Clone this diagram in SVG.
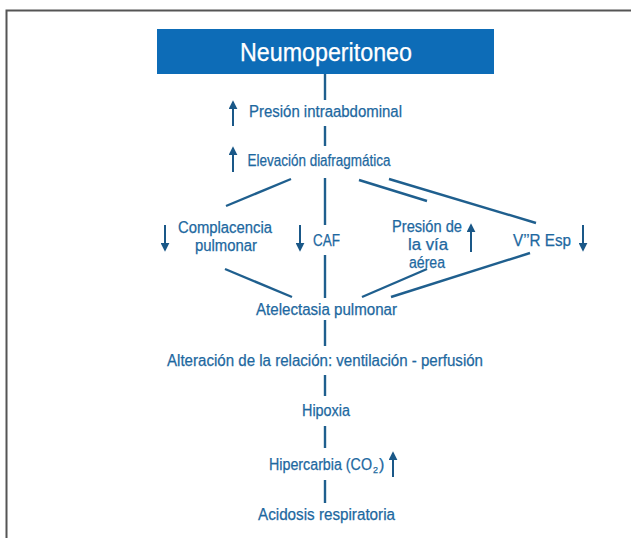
<svg xmlns="http://www.w3.org/2000/svg" width="631" height="538" viewBox="0 0 631 538">
<defs>
<style>
.t{font-family:"Liberation Sans",Arial,sans-serif;font-size:16px;fill:#1d68a0;text-anchor:middle;stroke:#1d68a0;stroke-width:0.25}
.c line{stroke:#1f5f8e;stroke-width:2.4;stroke-linecap:butt}
.a{stroke:#1a5888;stroke-width:2}
.h{fill:#1a5888}
</style>
<marker id="ah" viewBox="0 0 10 10" refX="8" refY="5" markerWidth="4.5" markerHeight="4.5" orient="auto"><path class="h" d="M0,0 L10,5 L0,10 z"/></marker>
</defs>
<rect x="0" y="0" width="631" height="538" fill="#fff"/>
<path d="M6.5,538 V10.5 H631" fill="none" stroke="#555" stroke-width="2"/>

<g id="neumoperitoneo">
<rect x="157" y="29" width="337" height="45" fill="#0d6cb7"/>
<text x="326" y="61" class="t" style="fill:#fff;stroke:#fff;font-size:25px" textLength="172" lengthAdjust="spacingAndGlyphs">Neumoperitoneo</text>
</g>

<g class="c" id="connectors">
<line x1="325" y1="74" x2="325" y2="100"/>
<line x1="325" y1="126" x2="325" y2="146"/>
<line x1="291" y1="179" x2="226" y2="206"/>
<line x1="325" y1="178" x2="325" y2="225"/>
<line x1="359" y1="180" x2="427" y2="201"/>
<line x1="389" y1="179" x2="536" y2="223"/>
<line x1="225" y1="269" x2="292" y2="297"/>
<line x1="325" y1="255" x2="325" y2="298"/>
<line x1="427" y1="269" x2="362" y2="297"/>
<line x1="530" y1="253" x2="391" y2="297"/>
<line x1="325" y1="320" x2="325" y2="346"/>
<line x1="325" y1="375" x2="325" y2="396"/>
<line x1="325" y1="426" x2="325" y2="448"/>
<line x1="325" y1="480" x2="325" y2="503"/>
</g>

<g id="presion-intraabdominal">
<line class="a" x1="233" y1="126" x2="233" y2="102" marker-end="url(#ah)"/>
<text x="325.5" y="117" class="t" textLength="153" lengthAdjust="spacingAndGlyphs">Presión intraabdominal</text>
</g>

<g id="elevacion-diafragmatica">
<line class="a" x1="233" y1="172" x2="233" y2="148" marker-end="url(#ah)"/>
<text x="319" y="166" class="t" textLength="143" lengthAdjust="spacingAndGlyphs">Elevación diafragmática</text>
</g>

<g id="complacencia">
<line class="a" x1="165" y1="225" x2="165" y2="250" marker-end="url(#ah)"/>
<text x="225" y="233" class="t" textLength="94" lengthAdjust="spacingAndGlyphs">Complacencia</text>
<text x="226" y="251" class="t" textLength="62" lengthAdjust="spacingAndGlyphs">pulmonar</text>
</g>

<g id="caf">
<line class="a" x1="300" y1="225" x2="300" y2="250" marker-end="url(#ah)"/>
<text x="326.5" y="246" class="t" textLength="27" lengthAdjust="spacingAndGlyphs">CAF</text>
</g>

<g id="presion-via-aerea">
<text x="427" y="232" class="t" textLength="70" lengthAdjust="spacingAndGlyphs">Presión de</text>
<text x="428" y="250" class="t" textLength="40" lengthAdjust="spacingAndGlyphs">la vía</text>
<text x="427" y="268" class="t" textLength="36" lengthAdjust="spacingAndGlyphs">aérea</text>
<line class="a" x1="471" y1="252" x2="471" y2="225" marker-end="url(#ah)"/>
</g>

<g id="vr-esp">
<text x="542" y="246" class="t" textLength="58" lengthAdjust="spacingAndGlyphs">V’’R Esp</text>
<line class="a" x1="583" y1="225" x2="583" y2="250" marker-end="url(#ah)"/>
</g>

<g id="atelectasia">
<text x="326.5" y="315" class="t" textLength="141" lengthAdjust="spacingAndGlyphs">Atelectasia pulmonar</text>
</g>

<g id="alteracion">
<text x="325" y="366" class="t" textLength="316" lengthAdjust="spacingAndGlyphs">Alteración de la relación: ventilación - perfusión</text>
</g>

<g id="hipoxia">
<text x="326" y="416" class="t" textLength="48" lengthAdjust="spacingAndGlyphs">Hipoxia</text>
</g>

<g id="hipercarbia">
<text x="269" y="470" class="t" style="text-anchor:start"><tspan textLength="103" lengthAdjust="spacingAndGlyphs">Hipercarbia (CO</tspan><tspan x="373" dy="3" font-size="9">2</tspan><tspan x="379" dy="-3">)</tspan></text>
<line class="a" x1="393" y1="477" x2="393" y2="453" marker-end="url(#ah)"/>
</g>

<g id="acidosis">
<text x="326.5" y="520" class="t" textLength="137" lengthAdjust="spacingAndGlyphs">Acidosis respiratoria</text>
</g>
</svg>
